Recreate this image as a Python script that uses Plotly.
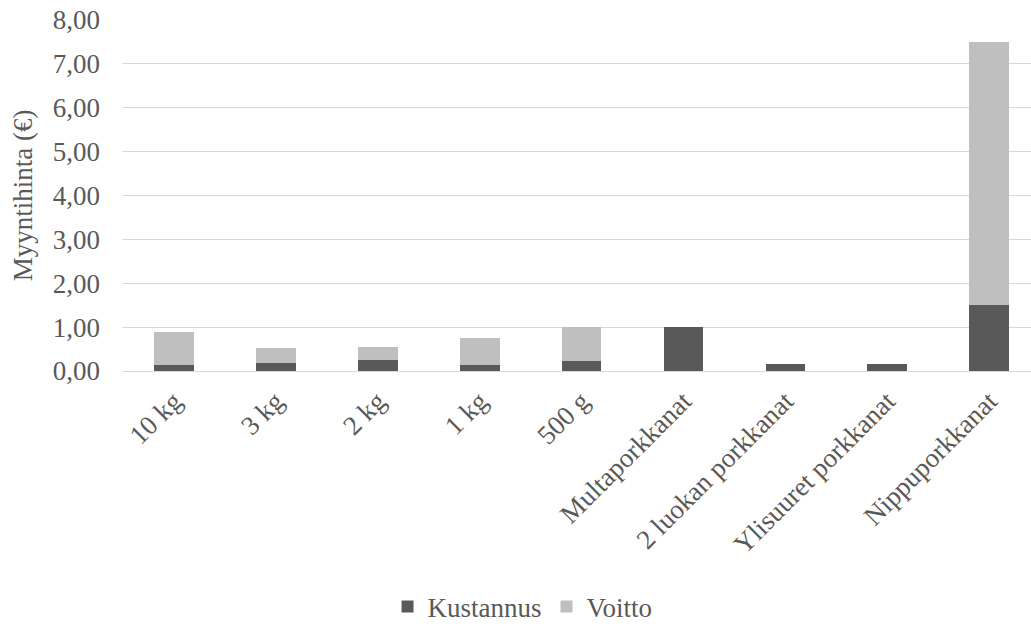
import plotly.graph_objects as go

# Carrot product price breakdown (EUR per unit)
categories = ["10 kg", "3 kg", "2 kg", "1 kg", "500 g", "Multaporkkanat",
              "2 luokan porkkanat", "Ylisuuret porkkanat", "Nippuporkkanat"]
kustannus = [0.13, 0.18, 0.25, 0.13, 0.22, 1.00, 0.15, 0.15, 1.50]
voitto = [0.77, 0.34, 0.30, 0.62, 0.78, 0.00, 0.00, 0.00, 6.00]
y_ticks = [0, 1, 2, 3, 4, 5, 6, 7, 8]
y_tick_text = ["0,00", "1,00", "2,00", "3,00", "4,00", "5,00", "6,00", "7,00", "8,00"]

FONT = "Liberation Serif"
TEXT = "#595959"
SIZE = 27
W, H = 1031, 624
L, T, B = 122.5, 20, 253.3

fig = go.Figure()
fig.add_trace(go.Bar(x=categories, y=kustannus, name="Kustannus",
                     marker=dict(color="#595959", line=dict(width=0)), width=0.39))
fig.add_trace(go.Bar(x=categories, y=voitto, name="Voitto",
                     marker=dict(color="#bfbfbf", line=dict(width=0)), width=0.39))

fig.update_layout(
    width=W, height=H,
    barmode="stack",
    plot_bgcolor="white", paper_bgcolor="white",
    margin=dict(l=L, r=0, t=T, b=B, pad=0, autoexpand=False),
    font=dict(family=FONT, size=SIZE, color=TEXT),
    legend=dict(orientation="h", x=0.44, xanchor="center",
                yref="container", y=1 - 607 / 624, yanchor="middle",
                font=dict(family=FONT, size=SIZE, color=TEXT), traceorder="normal",
                itemwidth=30, tracegroupgap=0),
    showlegend=True,
)
fig.update_xaxes(
    type="category", range=[-0.5, 8.41], tickangle=-45, automargin=False,
    showgrid=False, showline=False, zeroline=False, ticks="",
    ticklabelstandoff=8,
    tickfont=dict(family=FONT, size=SIZE, color=TEXT),
)
fig.update_yaxes(
    range=[0, 8], tickvals=y_ticks, ticktext=y_tick_text, automargin=False,
    showgrid=True, gridcolor="#d9d9d9", gridwidth=1.3,
    zeroline=True, zerolinecolor="#d9d9d9", zerolinewidth=1.3,
    showline=False, ticks="", ticklabelstandoff=22,
    tickfont=dict(family=FONT, size=SIZE, color=TEXT),
    title=dict(text="Myyntihinta (€)", standoff=12,
               font=dict(family=FONT, size=SIZE, color=TEXT)),
)

fig.write_html("out.html")
